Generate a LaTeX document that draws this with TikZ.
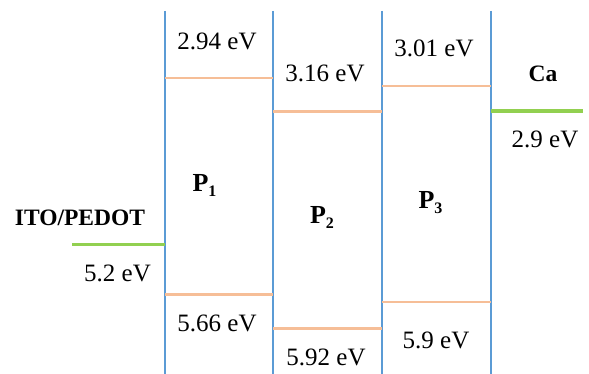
\documentclass[tikz,border=0pt]{standalone}
\usepackage{fontspec}
\setmainfont{Liberation Serif}
\definecolor{wallblue}{HTML}{5B9BD5}
\definecolor{levorange}{HTML}{F6BE97}
\definecolor{elgreen}{HTML}{92D050}
\newcommand{\plabel}[1]{P\raisebox{-0.17em}{\fontsize{16}{16}\selectfont #1}}
\begin{document}
\begin{tikzpicture}[x=1pt,y=-1pt,
  wall/.style={draw=wallblue, line width=1.3pt},
  orb/.style={draw=levorange, line width=2.8pt},
  elec/.style={draw=elgreen, line width=3.8pt},
  val/.style={font=\fontsize{25}{28}\selectfont, inner sep=0pt, anchor=base},
  lbl/.style={font=\bfseries\fontsize{23.5}{28}\selectfont, inner sep=0pt, anchor=base},
  plbl/.style={font=\bfseries\fontsize{26}{28}\selectfont, inner sep=0pt, anchor=base}]
\useasboundingbox (0,0) rectangle (589,374);
% walls
\foreach \n/\x in {a/165,b/273,c/382,d/491}{
  \coordinate (\n t) at (\x,11);
  \coordinate (\n b) at (\x,374);
}
\draw[wall] (at) -- (ab);
\draw[wall] (bt) -- (bb);
\draw[wall] (ct) -- (cb);
\draw[wall] (dt) -- (db);
% levels
\coordinate (l1a) at (165,78);  \coordinate (l1b) at (273,78);
\coordinate (l2a) at (273,111.5); \coordinate (l2b) at (382,111.5);
\coordinate (l3a) at (382,86);  \coordinate (l3b) at (491,86);
\coordinate (h1a) at (165,294.5); \coordinate (h1b) at (273,294.5);
\coordinate (h2a) at (273,328.5); \coordinate (h2b) at (382,328.5);
\coordinate (h3a) at (382,302); \coordinate (h3b) at (491,302);
\coordinate (caa) at (491,111); \coordinate (cab) at (583,111);
\coordinate (itoa) at (72,244.5); \coordinate (itob) at (165,244.5);
\draw[orb] (l1a) -- (l1b);
\draw[orb] (l2a) -- (l2b);
\draw[orb] (l3a) -- (l3b);
\draw[orb] (h1a) -- (h1b);
\draw[orb] (h2a) -- (h2b);
\draw[orb] (h3a) -- (h3b);
\draw[elec] (caa) -- (cab);
\draw[elec,line width=3pt] (itoa) -- (itob);
% labels
\node[val] (t1) at (217,50) {2.94 eV};
\node[val] (t2) at (325,82) {3.16 eV};
\node[val] (t3) at (434,57) {3.01 eV};
\node[lbl] (ca) at (543,82) {Ca};
\node[val] (t4) at (545,148) {2.9 eV};
\node[lbl] (ito) at (80,225.5) {ITO/PEDOT};
\node[val] (t5) at (117.5,281.5) {5.2 eV};
\node[val] (b1) at (217,331.5) {5.66 eV};
\node[val] (b2) at (326,365) {5.92 eV};
\node[val] (b3) at (436,348) {5.9 eV};
\node[plbl] (p1) at (204.5,192) {\plabel{1}};
\node[plbl] (p2) at (322,224) {\plabel{2}};
\node[plbl] (p3) at (430.5,209) {\plabel{3}};
\end{tikzpicture}
\end{document}
